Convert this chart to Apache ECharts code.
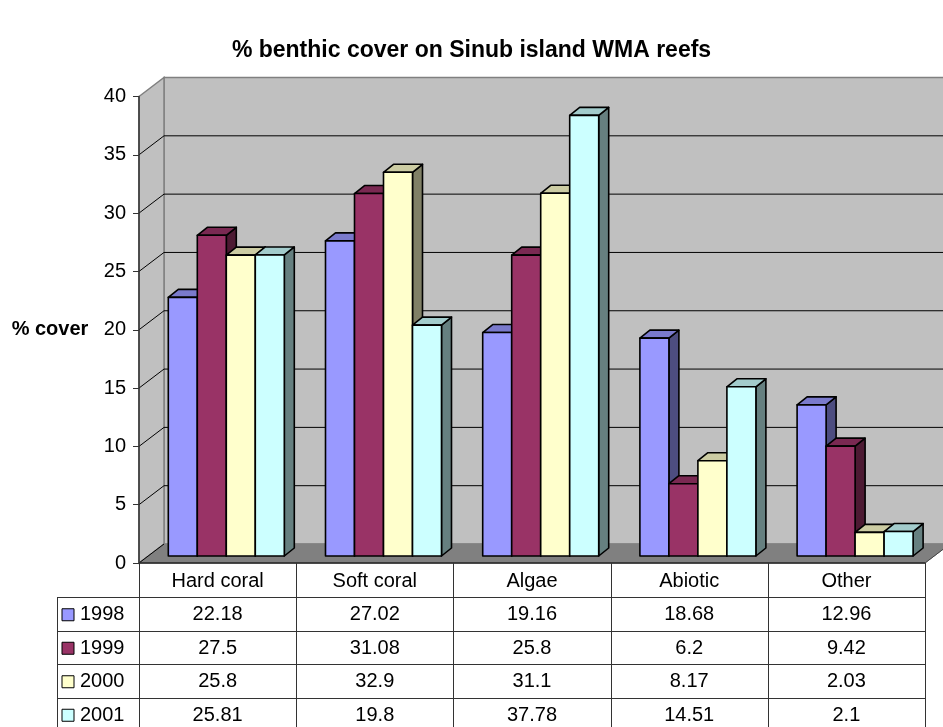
<!DOCTYPE html>
<html>
<head>
<meta charset="utf-8">
<script src="https://cdn.jsdelivr.net/npm/echarts@6/dist/echarts.min.js"></script>
<style>
  html, body { margin: 0; padding: 0; background: #fff; }
  #chart { width: 943px; height: 727px; }
</style>
</head>
<body>
<div id="chart"></div>
<script>
// ---- data ----
const categories = ['Hard coral', 'Soft coral', 'Algae', 'Abiotic', 'Other'];
const years = ['1998', '1999', '2000', '2001'];
const cover1998 = [22.18, 27.02, 19.16, 18.68, 12.96];
const cover1999 = [27.5, 31.08, 25.8, 6.2, 9.42];
const cover2000 = [25.8, 32.9, 31.1, 8.17, 2.03];
const cover2001 = [25.81, 19.8, 37.78, 14.51, 2.1];
const coverTicks = [0, 5, 10, 15, 20, 25, 30, 35, 40];

const seriesValues = [cover1998, cover1999, cover2000, cover2001];

// ---- styling ----
const FONT = '"Liberation Sans", Arial, sans-serif';
const faceColors = [
  { front: '#9999FF', top: '#7A7ACC', side: '#4D4D80' },
  { front: '#993366', top: '#7A2952', side: '#4D1A33' },
  { front: '#FFFFCC', top: '#CCCCA3', side: '#808066' },
  { front: '#CCFFFF', top: '#A3CCCC', side: '#668080' }
];

// plot box (front plane) and 3-D offsets
const GRID = { left: 139, right: 18, top: 96.5, bottom: 164 };
const WALL_DX = 25, WALL_DY = -19;     // depth of the floor / back wall
const BAR_W = 29;                      // width of one bar
const GROUP_SHIFT = 8.7;               // cluster offset from category centre
const PLANE_DY = -7;                   // bars stand a little behind the front edge
const BAR_DX = 10, BAR_DY = -8;        // depth of each bar

const chart = echarts.init(document.getElementById('chart'), null, { renderer: 'canvas' });

// walls, floor and gridlines
function renderWalls(params, api) {
  const cs = params.coordSys;
  const L = cs.x, R = cs.x + cs.width;
  const y0 = api.coord([0, coverTicks[0]])[1];
  const yTop = api.coord([0, coverTicks[coverTicks.length - 1]])[1];
  const wallStyle = { fill: '#C0C0C0', stroke: '#808080', lineWidth: 1.5 };
  const children = [
    { type: 'polygon', shape: { points: [[L + WALL_DX, yTop + WALL_DY], [R + WALL_DX, yTop + WALL_DY], [R + WALL_DX, y0 + WALL_DY], [L + WALL_DX, y0 + WALL_DY]] }, style: wallStyle },
    { type: 'polygon', shape: { points: [[L, yTop], [L + WALL_DX, yTop + WALL_DY], [L + WALL_DX, y0 + WALL_DY], [L, y0]] }, style: wallStyle },
    { type: 'polygon', shape: { points: [[L, y0], [R, y0], [R + WALL_DX, y0 + WALL_DY], [L + WALL_DX, y0 + WALL_DY]] }, style: { fill: '#808080', stroke: '#808080', lineWidth: 1 } }
  ];
  coverTicks.slice(1, -1).forEach(function (t) {
    const y = api.coord([0, t])[1];
    children.push({ type: 'line', shape: { x1: L, y1: y, x2: L + WALL_DX, y2: y + WALL_DY }, style: { stroke: '#000', lineWidth: 1 } });
    children.push({ type: 'line', shape: { x1: L + WALL_DX, y1: y + WALL_DY, x2: R + WALL_DX, y2: y + WALL_DY }, style: { stroke: '#000', lineWidth: 1 } });
  });
  children.push({ type: 'line', shape: { x1: L, y1: y0, x2: L + WALL_DX, y2: y0 + WALL_DY }, style: { stroke: '#000', lineWidth: 1 } });
  children.push({ type: 'line', shape: { x1: L, y1: y0, x2: R, y2: y0 }, style: { stroke: '#222', lineWidth: 1.5 } });
  children.push({ type: 'line', shape: { x1: R, y1: y0, x2: R + WALL_DX, y2: y0 + WALL_DY }, style: { stroke: '#444', lineWidth: 1 } });
  return { type: 'group', children: children };
}

// a 3-D column: front face, top face and right side face
function barRenderer(si) {
  return function (params, api) {
    const j = api.value(0);
    const v = api.value(1);
    const base = api.coord([j, 0]);
    const top = api.coord([j, v]);
    const x0 = base[0] + GROUP_SHIFT - 2 * BAR_W + si * BAR_W;
    const x1 = x0 + BAR_W;
    const yb = base[1] + PLANE_DY;
    const yt = top[1] + PLANE_DY;
    const c = faceColors[si];
    const edge = { stroke: '#000', lineWidth: 1.6, lineJoin: 'round' };
    return {
      type: 'group',
      children: [
        { type: 'polygon', shape: { points: [[x1, yt], [x1 + BAR_DX, yt + BAR_DY], [x1 + BAR_DX, yb + BAR_DY], [x1, yb]] }, style: Object.assign({ fill: c.side }, edge) },
        { type: 'polygon', shape: { points: [[x0, yt], [x1, yt], [x1 + BAR_DX, yt + BAR_DY], [x0 + BAR_DX, yt + BAR_DY]] }, style: Object.assign({ fill: c.top }, edge) },
        { type: 'rect', shape: { x: x0, y: yt, width: BAR_W, height: yb - yt }, style: Object.assign({ fill: c.front }, edge) }
      ]
    };
  };
}

const series = [{
  type: 'custom',
  name: 'walls',
  renderItem: renderWalls,
  data: [[0, 0]],
  z: 1,
  silent: true,
  clip: false
}];
seriesValues.forEach(function (vals, si) {
  series.push({
    type: 'custom',
    name: years[si],
    renderItem: barRenderer(si),
    data: vals.map(function (v, j) { return [j, v]; }),
    encode: { x: 0, y: 1 },
    z: 2 + si,
    clip: false
  });
});

// data table underneath the plot
function buildTable() {
  const W = 943, H = 727;
  const L = GRID.left, R = W - GRID.right;
  const y0 = H - GRID.bottom;
  const band = (R - L) / categories.length;
  const rowTop = 597, rowH = 33.5;
  const tableLeft = 57;
  const els = [];
  const lineStyle = { stroke: '#333', lineWidth: 1 };
  const textStyle = { fontFamily: FONT, fontSize: 20, fill: '#000', textAlign: 'center', textVerticalAlign: 'middle' };
  for (let k = 0; k <= categories.length; k++) {
    const x = Math.round(L + k * band) + 0.5;
    els.push({ type: 'line', shape: { x1: x, y1: y0, x2: x, y2: H }, style: lineStyle, z: 10 });
  }
  els.push({ type: 'line', shape: { x1: tableLeft + 0.5, y1: rowTop, x2: tableLeft + 0.5, y2: H }, style: lineStyle, z: 10 });
  for (let r = 0; r < years.length; r++) {
    const y = Math.round(rowTop + r * rowH) + 0.5;
    els.push({ type: 'line', shape: { x1: tableLeft, y1: y, x2: R, y2: y }, style: lineStyle, z: 10 });
  }
  categories.forEach(function (cat, j) {
    els.push({ type: 'text', x: L + (j + 0.5) * band, y: (y0 + rowTop) / 2 + 1, style: Object.assign({ text: cat }, textStyle), z: 10 });
  });
  years.forEach(function (yr, r) {
    const cy = rowTop + (r + 0.5) * rowH + 1;
    els.push({ type: 'rect', shape: { x: 62, y: cy - 6, width: 12, height: 12 }, style: { fill: faceColors[r].front, stroke: '#000', lineWidth: 1 }, z: 10 });
    els.push({ type: 'text', x: 80, y: cy, style: Object.assign({ text: yr }, textStyle, { textAlign: 'left' }), z: 10 });
    seriesValues[r].forEach(function (v, j) {
      els.push({ type: 'text', x: L + (j + 0.5) * band, y: cy, style: Object.assign({ text: String(v) }, textStyle), z: 10 });
    });
  });
  els.push({ type: 'text', x: 50, y: 329, style: { text: '% cover', fontFamily: FONT, fontSize: 20, fontWeight: 'bold', fill: '#000', textAlign: 'center', textVerticalAlign: 'middle' }, z: 10 });
  return els;
}

chart.setOption({
  animation: false,
  backgroundColor: '#fff',
  title: {
    text: '% benthic cover on Sinub island WMA reefs',
    left: 'center',
    top: 34,
    textStyle: { fontFamily: FONT, fontSize: 23, fontWeight: 'bold', color: '#000' }
  },
  grid: GRID,
  xAxis: {
    type: 'category',
    data: categories,
    axisLine: { show: false },
    axisTick: { show: false },
    axisLabel: { show: false },
    splitLine: { show: false }
  },
  yAxis: {
    type: 'value',
    min: coverTicks[0],
    max: coverTicks[coverTicks.length - 1],
    interval: coverTicks[1] - coverTicks[0],
    axisLine: { show: true, lineStyle: { color: '#333', width: 1.5 } },
    axisTick: { show: true, length: 6, lineStyle: { color: '#333' } },
    axisLabel: { color: '#000', fontFamily: FONT, fontSize: 20, margin: 13 },
    splitLine: { show: false },
    z: 20
  },
  series: series,
  graphic: buildTable()
});
</script>
</body>
</html>
